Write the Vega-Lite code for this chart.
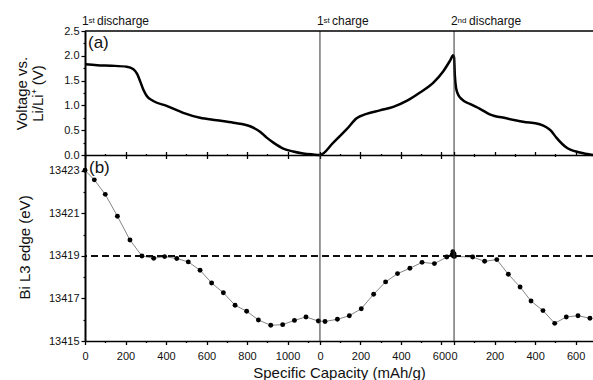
{
  "$schema": "https://vega.github.io/schema/vega-lite/v6.json",
  "padding": {"left": 14, "top": 15, "right": 0, "bottom": 0},
  "spacing": 0,
  "bounds": "flush",
  "config": {
    "font": "Liberation Sans",
    "view": {"stroke": null},
    "axis": {
      "labelFont": "Liberation Sans", "labelFontSize": 11, "labelColor": "#111", "labelOverlap": false,
      "titleFont": "Liberation Sans", "titleFontSize": 15, "titleFontWeight": "normal", "titleColor": "#111",
      "domainColor": "#000", "tickColor": "#000", "grid": false
    }
  },
  "datasets": {
    "voltage": [
      {"x": 0, "v": 1.83}, {"x": 60, "v": 1.81}, {"x": 130, "v": 1.8}, {"x": 206, "v": 1.78}, {"x": 239, "v": 1.73},
      {"x": 258, "v": 1.63}, {"x": 272, "v": 1.49}, {"x": 290, "v": 1.3}, {"x": 305, "v": 1.19}, {"x": 337, "v": 1.09},
      {"x": 403, "v": 0.99}, {"x": 485, "v": 0.85}, {"x": 568, "v": 0.75}, {"x": 650, "v": 0.7}, {"x": 733, "v": 0.65},
      {"x": 815, "v": 0.58}, {"x": 864, "v": 0.47}, {"x": 897, "v": 0.35}, {"x": 930, "v": 0.25}, {"x": 979, "v": 0.13},
      {"x": 1028, "v": 0.07}, {"x": 1077, "v": 0.03}, {"x": 1126, "v": 0.01}, {"x": 1160, "v": 0.0},
      {"x": 1226, "v": 0.25}, {"x": 1292, "v": 0.52}, {"x": 1341, "v": 0.74}, {"x": 1390, "v": 0.83}, {"x": 1456, "v": 0.9},
      {"x": 1522, "v": 0.97}, {"x": 1588, "v": 1.09}, {"x": 1654, "v": 1.26}, {"x": 1720, "v": 1.46}, {"x": 1769, "v": 1.69},
      {"x": 1802, "v": 1.9}, {"x": 1818, "v": 2.01},
      {"x": 1822, "v": 1.97}, {"x": 1826, "v": 1.6}, {"x": 1832, "v": 1.35}, {"x": 1842, "v": 1.22}, {"x": 1861, "v": 1.12},
      {"x": 1900, "v": 1.03}, {"x": 1950, "v": 0.93}, {"x": 1998, "v": 0.82}, {"x": 2080, "v": 0.74}, {"x": 2163, "v": 0.67},
      {"x": 2245, "v": 0.62}, {"x": 2278, "v": 0.56}, {"x": 2300, "v": 0.49}, {"x": 2327, "v": 0.35}, {"x": 2377, "v": 0.15},
      {"x": 2443, "v": 0.05}, {"x": 2508, "v": 0.0}
    ],
    "edge": [
      {"x": 0, "e": 13423.03}, {"x": 46, "e": 13422.58}, {"x": 100, "e": 13421.9}, {"x": 160, "e": 13420.87},
      {"x": 222, "e": 13419.75}, {"x": 281, "e": 13419.0}, {"x": 339, "e": 13418.89}, {"x": 393, "e": 13418.97},
      {"x": 453, "e": 13418.88}, {"x": 510, "e": 13418.72}, {"x": 568, "e": 13418.33}, {"x": 625, "e": 13417.73},
      {"x": 683, "e": 13417.27}, {"x": 741, "e": 13416.68}, {"x": 798, "e": 13416.4}, {"x": 856, "e": 13415.99},
      {"x": 917, "e": 13415.74}, {"x": 976, "e": 13415.77}, {"x": 1034, "e": 13415.97}, {"x": 1091, "e": 13416.13},
      {"x": 1152, "e": 13415.94},
      {"x": 1185, "e": 13415.92}, {"x": 1246, "e": 13416.02}, {"x": 1305, "e": 13416.19}, {"x": 1364, "e": 13416.52},
      {"x": 1425, "e": 13417.2}, {"x": 1484, "e": 13417.78}, {"x": 1543, "e": 13418.17}, {"x": 1604, "e": 13418.42},
      {"x": 1664, "e": 13418.7}, {"x": 1725, "e": 13418.64}, {"x": 1786, "e": 13418.95}, {"x": 1812, "e": 13419.05},
      {"x": 1816, "e": 13419.2}, {"x": 1819, "e": 13419.0},
      {"x": 1822, "e": 13419.1}, {"x": 1824, "e": 13418.98}, {"x": 1914, "e": 13418.95}, {"x": 1973, "e": 13418.75},
      {"x": 2033, "e": 13418.83}, {"x": 2090, "e": 13418.14}, {"x": 2148, "e": 13417.54}, {"x": 2202, "e": 13416.88},
      {"x": 2261, "e": 13416.43}, {"x": 2319, "e": 13415.83}, {"x": 2376, "e": 13416.13}, {"x": 2434, "e": 13416.19},
      {"x": 2493, "e": 13416.07}
    ],
    "boundaries": [{"x": 1160}, {"x": 1822}],
    "steps": [
      {"x": 0, "num": "1", "sup": "st", "word": "discharge"},
      {"x": 1160, "num": "1", "sup": "st", "word": "charge"},
      {"x": 1822, "num": "2", "sup": "nd", "word": "discharge"}
    ]
  },
  "vconcat": [
    {
      "width": 508,
      "height": 124,
      "resolve": {"axis": {"y": "independent"}},
      "layer": [
        {
          "data": {"name": "voltage"},
          "mark": {"type": "line", "color": "#000", "strokeWidth": 2.5, "interpolate": "monotone"},
          "encoding": {
            "x": {
              "field": "x", "type": "quantitative",
              "scale": {"domain": [0, 2508], "nice": false, "zero": false},
              "axis": {
                "orient": "bottom", "title": null, "labels": false,
                "values": [0, 100, 200, 300, 400, 500, 600, 700, 800, 900, 1000, 1100, 1160, 1260, 1360, 1460, 1560, 1660, 1760, 1822, 1922, 2022, 2122, 2222, 2322, 2422],
                "tickSize": {"condition": {"test": "(datum.value < 1150 ? datum.value : datum.value < 1800 ? datum.value - 1160 : datum.value - 1822) % 200 === 0", "value": 3.5}, "value": 1.5},
                "tickWidth": 1.3, "domainWidth": 1.5
              }
            },
            "y": {
              "field": "v", "type": "quantitative",
              "scale": {"domain": [0, 2.5], "nice": false},
              "axis": {
                "title": ["Voltage vs.", "Li/Li⁺ (V)"],
                "titleX": -59, "titleY": 62, "titleAngle": 270, "titleAlign": "center", "titleBaseline": "alphabetic", "titleLineHeight": 16,
                "values": [0, 0.25, 0.5, 0.75, 1, 1.25, 1.5, 1.75, 2, 2.25, 2.5],
                "labelExpr": "datum.value % 0.5 === 0 ? format(datum.value, '.1f') : ''",
                "labelOverlap": false, "labelFlush": false, "labelBound": false,
                "tickSize": {"condition": {"test": "datum.value % 0.5 === 0", "value": 4}, "value": 2},
                "tickWidth": 1.2, "domainWidth": 2, "labelPadding": 2
              }
            }
          }
        },
        {
          "data": {"name": "boundaries"},
          "mark": {"type": "rule", "color": "#333", "strokeWidth": 1},
          "encoding": {"x": {"field": "x", "type": "quantitative"}}
        },
        {
          "data": {"name": "boundaries"},
          "mark": {"type": "rule", "color": "#000", "strokeWidth": 1.2},
          "encoding": {"y": {"datum": 2.5, "axis": null}}
        },
        {
          "data": {"name": "steps"},
          "mark": {"type": "text", "align": "left", "baseline": "alphabetic", "fontSize": 12, "dx": -3, "dy": -6, "color": "#111"},
          "encoding": {"x": {"field": "x", "type": "quantitative"}, "y": {"datum": 2.5, "axis": null}, "text": {"field": "num"}}
        },
        {
          "data": {"name": "steps"},
          "mark": {"type": "text", "align": "left", "baseline": "alphabetic", "fontSize": 8, "dx": 3.5, "dy": -8, "color": "#111"},
          "encoding": {"x": {"field": "x", "type": "quantitative"}, "y": {"datum": 2.5, "axis": null}, "text": {"field": "sup"}}
        },
        {
          "data": {"name": "steps"},
          "transform": [{"filter": "datum.sup === 'st'"}],
          "mark": {"type": "text", "align": "left", "baseline": "alphabetic", "fontSize": 12, "dx": 12, "dy": -6, "color": "#111"},
          "encoding": {"x": {"field": "x", "type": "quantitative"}, "y": {"datum": 2.5, "axis": null}, "text": {"field": "word"}}
        },
        {
          "data": {"name": "steps"},
          "transform": [{"filter": "datum.sup === 'nd'"}],
          "mark": {"type": "text", "align": "left", "baseline": "alphabetic", "fontSize": 12, "dx": 15, "dy": -6, "color": "#111"},
          "encoding": {"x": {"field": "x", "type": "quantitative"}, "y": {"datum": 2.5, "axis": null}, "text": {"field": "word"}}
        },
        {
          "data": {"values": [{"label": "(a)", "x": 0}]},
          "mark": {"type": "text", "align": "left", "baseline": "alphabetic", "fontSize": 17, "dx": 3, "dy": 17, "color": "#111"},
          "encoding": {"x": {"field": "x", "type": "quantitative"}, "y": {"datum": 2.5, "axis": null}, "text": {"field": "label"}}
        }
      ]
    },
    {
      "width": 508,
      "height": 186,
      "resolve": {"axis": {"x": "independent", "y": "independent"}},
      "layer": [
        {
          "data": {"name": "edge"},
          "mark": {"type": "line", "color": "#666", "strokeWidth": 0.8},
          "encoding": {
            "x": {
              "field": "x", "type": "quantitative",
              "scale": {"domain": [0, 2508], "nice": false, "zero": false},
              "axis": {
                "orient": "bottom", "title": "Specific Capacity (mAh/g)",
                "values": [0, 100, 200, 300, 400, 500, 600, 700, 800, 900, 1000, 1100, 1160, 1260, 1360, 1460, 1560, 1660, 1760, 1822, 1922, 2022, 2122, 2222, 2322, 2422],
                "labelExpr": "(datum.value < 1150 ? datum.value : datum.value < 1800 ? datum.value - 1160 : datum.value - 1822) % 200 === 0 ? '' + (datum.value < 1150 ? datum.value : datum.value < 1800 ? datum.value - 1160 : datum.value - 1822) : ''",
                "labelOverlap": false, "labelFlush": false, "labelBound": false,
                "tickSize": {"condition": {"test": "(datum.value < 1150 ? datum.value : datum.value < 1800 ? datum.value - 1160 : datum.value - 1822) % 200 === 0", "value": 3.5}, "value": 1.5},
                "tickWidth": 1.3, "domainWidth": 1.5, "labelPadding": 6, "titlePadding": 4
              }
            },
            "y": {
              "field": "e", "type": "quantitative",
              "scale": {"domain": [13415, 13423.75], "nice": false, "zero": false},
              "axis": {
                "title": "Bi L3 edge (eV)",
                "titleX": -56, "titleY": 92, "titleAngle": 270, "titleAlign": "center", "titleBaseline": "alphabetic",
                "values": [13415, 13416, 13417, 13418, 13419, 13420, 13421, 13422, 13423],
                "labelExpr": "datum.value % 2 === 1 ? '' + datum.value : ''",
                "labelOverlap": false, "labelFlush": false, "labelBound": false,
                "tickSize": {"condition": {"test": "datum.value % 2 === 1", "value": 4}, "value": 2},
                "tickWidth": 1.2, "domainWidth": 2, "labelPadding": 2
              }
            }
          }
        },
        {
          "data": {"name": "edge"},
          "mark": {"type": "point", "filled": true, "color": "#000", "size": 24, "opacity": 1},
          "encoding": {
            "x": {"field": "x", "type": "quantitative", "axis": null},
            "y": {"field": "e", "type": "quantitative", "axis": null}
          }
        },
        {
          "data": {"name": "boundaries"},
          "mark": {"type": "rule", "color": "#000", "strokeWidth": 1.5, "strokeDash": [7, 4]},
          "encoding": {"y": {"datum": 13419, "axis": null}}
        },
        {
          "data": {"name": "boundaries"},
          "mark": {"type": "rule", "color": "#333", "strokeWidth": 1},
          "encoding": {
            "x": {
              "field": "x", "type": "quantitative",
              "axis": {
                "orient": "top", "title": null, "labels": false, "domain": false,
                "values": [0, 100, 200, 300, 400, 500, 600, 700, 800, 900, 1000, 1100, 1160, 1260, 1360, 1460, 1560, 1660, 1760, 1822, 1922, 2022, 2122, 2222, 2322, 2422],
                "tickSize": {"condition": {"test": "(datum.value < 1150 ? datum.value : datum.value < 1800 ? datum.value - 1160 : datum.value - 1822) % 200 === 0", "value": 3.5}, "value": 1.5},
                "tickWidth": 1.3
              }
            }
          }
        },
        {
          "data": {"values": [{"label": "(b)", "x": 0}]},
          "mark": {"type": "text", "align": "left", "baseline": "alphabetic", "fontSize": 17, "dx": 4, "dy": 17.5, "color": "#111"},
          "encoding": {"x": {"field": "x", "type": "quantitative", "axis": null}, "y": {"datum": 13423.75, "axis": null}, "text": {"field": "label"}}
        }
      ]
    }
  ]
}
